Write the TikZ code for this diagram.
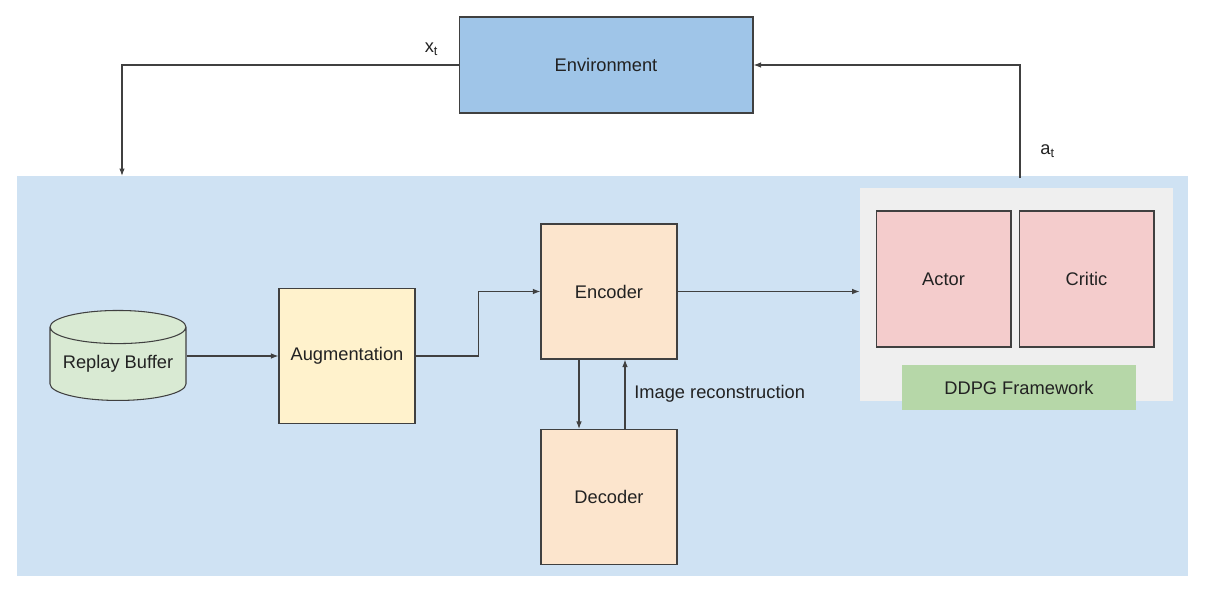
\documentclass[tikz,border=0pt]{standalone}
\usepackage{fontspec}
\setmainfont{Liberation Sans}
\usepackage{tikz}
\usetikzlibrary{shapes, arrows.meta, positioning}

\definecolor{agentblue}{HTML}{CFE2F3}
\definecolor{envblue}{HTML}{9FC5E8}
\definecolor{ddpggray}{HTML}{EFEFEF}
\definecolor{netpink}{HTML}{F4CCCC}
\definecolor{ddpggreen}{HTML}{B6D7A8}
\definecolor{augyellow}{HTML}{FFF2CC}
\definecolor{encorange}{HTML}{FCE5CD}
\definecolor{bufgreen}{HTML}{D9EAD3}
\definecolor{linegray}{HTML}{404040}
\definecolor{textgray}{HTML}{222222}

\begin{document}
\begin{tikzpicture}[x=0.02cm, y=-0.02cm, font=\fontsize{10.4}{12}\selectfont,
    main/.style={rectangle, draw=linegray, line width=0.6pt, inner sep=0pt, text=textgray, minimum width=2.72cm, minimum height=2.7cm},
    plain/.style={rectangle, draw=none, inner sep=0pt, text=textgray},
    arr/.style={-{Latex[length=1.5mm, width=1.1mm]}, draw=linegray, line width=0.6pt}]
    \useasboundingbox (0,0) rectangle (1206,588);

    % agent area
    \node[plain, fill=agentblue, minimum width=23.42cm, minimum height=8cm] (agent) at (602.5,376) {};
    \node[plain, fill=ddpggray, minimum width=6.26cm, minimum height=4.26cm] (ddpgbox) at (1016.5,294.5) {};

    \node[main, fill=envblue, minimum width=5.88cm, minimum height=1.92cm] (env) at (606,65) {Environment};
    \node[cylinder, shape border rotate=90, aspect=0.3, draw=linegray, line width=0.6pt, fill=bufgreen, text=textgray,
          minimum width=2.72cm, minimum height=1.8cm, inner sep=0pt] (buf) at (118,364) {Replay Buffer};
    \node[main, fill=augyellow] (aug) at (347,356) {Augmentation};
    \node[main, fill=encorange] (enc) at (609,291.5) {Encoder};
    \node[main, fill=encorange] (dec) at (609,497) {Decoder};
    \node[main, fill=netpink, minimum width=2.7cm, minimum height=2.72cm] (actor) at (943.5,279) {Actor};
    \node[main, fill=netpink, minimum width=2.7cm, minimum height=2.72cm] (critic) at (1086.5,279) {Critic};
    \node[plain, fill=ddpggreen, minimum width=4.68cm, minimum height=0.9cm] (ddpg) at (1019,387.5) {DDPG Framework};

    % loop with the environment
    \coordinate (xin) at (122,176);
    \coordinate (aout) at (1020,178);
    \draw[arr] (env.west) -| (xin) node[pos=0.04, above=2pt, text=textgray] {x\textsubscript{t}};
    \draw[arr] (aout) |- (env.east) node[pos=0.12, right=8pt, text=textgray] {a\textsubscript{t}};

    % inside the agent
    \draw[arr] (aug.west -| buf.east) -- (aug.west);
    \draw[arr] (aug.east) -- ++(63,0) |- (enc.west);
    \draw[arr] ([xshift=-0.6cm]enc.south) -- ([xshift=-0.6cm]dec.north);
    \draw[arr] ([xshift=0.32cm]dec.north) -- ([xshift=0.32cm]enc.south) node[midway, right=1.7pt, text=textgray] {Image reconstruction};
    \draw[arr] (enc.east) -- (enc.east -| ddpgbox.west);
\end{tikzpicture}
\end{document}
